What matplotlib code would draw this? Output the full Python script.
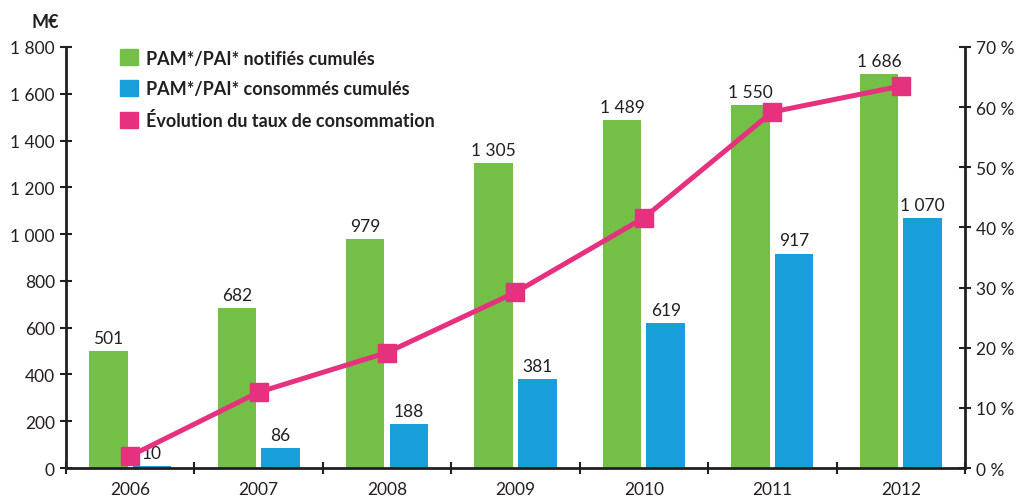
import numpy as np
import matplotlib
matplotlib.use("Agg")
import matplotlib.pyplot as plt
from matplotlib.ticker import FuncFormatter, FixedLocator

plt.rcParams.update({
    "font.family": ["Lato", "DejaVu Sans"],
    "font.size": 12,
})

years = ["2006", "2007", "2008", "2009", "2010", "2011", "2012"]
notifies = [501, 682, 979, 1305, 1489, 1550, 1686]      # M€
consommes = [10, 86, 188, 381, 619, 917, 1070]          # M€
taux = [2.0, 12.6, 19.2, 29.2, 41.6, 59.2, 63.5]        # %

GREEN = "#74BF45"
BLUE = "#189ED8"
PINK = "#E6317F"
DARK = "#231F20"


def fr(v):
    return f"{int(round(v)):,}".replace(",", " ")


fig = plt.figure(figsize=(10.21, 5.02), dpi=100)
ax = fig.add_axes([0.0646, 0.0657, 0.8805, 0.8387])
ax2 = ax.twinx()

x = np.arange(len(years))
w = 0.30
off = 0.17

b1 = ax.bar(x - off, notifies, w, color=GREEN, label="PAM*/PAI* notifiés cumulés", zorder=2)
b2 = ax.bar(x + off, consommes, w, color=BLUE, label="PAM*/PAI* consommés cumulés", zorder=2)
for rect, v in zip(b1, notifies):
    ax.text(rect.get_x() + rect.get_width() / 2, v + 22, fr(v), ha="center", va="bottom",
            fontsize=12.5, color=DARK)
for rect, v in zip(b2, consommes):
    ax.text(rect.get_x() + rect.get_width() / 2, v + 22, fr(v), ha="center", va="bottom",
            fontsize=12.5, color=DARK)

ax2.plot(x, taux, color=PINK, lw=3.6, marker="s", ms=13.5, zorder=5)

ax.set_xlim(-0.5, len(years) - 0.5)
ax.set_ylim(0, 1800)
ax2.set_ylim(0, 70)
ax2.patch.set_visible(False)

ax.set_yticks(np.arange(0, 1801, 200))
ax.yaxis.set_major_formatter(FuncFormatter(lambda v, p: fr(v)))
ax2.set_yticks(np.arange(0, 71, 10))
ax2.yaxis.set_major_formatter(FuncFormatter(lambda v, p: f"{int(v)} %"))

ax.xaxis.set_major_locator(FixedLocator(np.arange(-0.5, len(years), 1.0)))
ax.set_xticklabels([])
ax.set_xticks(x, minor=True)
ax.set_xticklabels(years, minor=True)
ax.tick_params(axis="x", which="minor", length=0, pad=9, labelsize=12.5, colors=DARK)
ax.tick_params(axis="x", which="major", direction="inout", length=8, width=1.5, color=DARK)
ax.tick_params(axis="y", direction="inout", length=8, width=1.5, color=DARK,
               labelsize=12.5, labelcolor=DARK, pad=4)
ax2.tick_params(axis="y", direction="inout", length=8, width=1.5, color=DARK,
                labelsize=12.5, labelcolor=DARK, pad=4)

for a in (ax, ax2):
    a.spines["top"].set_visible(False)
ax.spines["right"].set_visible(False)
ax2.spines["left"].set_visible(False)
for s in ("left", "bottom"):
    ax.spines[s].set_linewidth(2)
    ax.spines[s].set_color(DARK)
ax2.spines["right"].set_linewidth(2)
ax2.spines["right"].set_color(DARK)
ax2.spines["bottom"].set_visible(False)

fig.text(0.044, 0.955, "M€", fontsize=13, fontweight="bold", color=DARK, ha="center", va="center")

handles = [plt.Rectangle((0, 0), 1, 1, color=c) for c in (GREEN, BLUE, PINK)]
labels = ["PAM*/PAI* notifiés cumulés", "PAM*/PAI* consommés cumulés",
          "Évolution du taux de consommation"]
leg = fig.legend(handles, labels, loc="upper left", bbox_to_anchor=(0.105, 0.925),
                 frameon=False, fontsize=13, handlelength=1.0, handleheight=1.0,
                 handletextpad=0.45, labelspacing=0.75, borderpad=0.2)
for t in leg.get_texts():
    t.set_fontweight("bold")
    t.set_color(DARK)

fig.savefig("out.png", dpi=100)
